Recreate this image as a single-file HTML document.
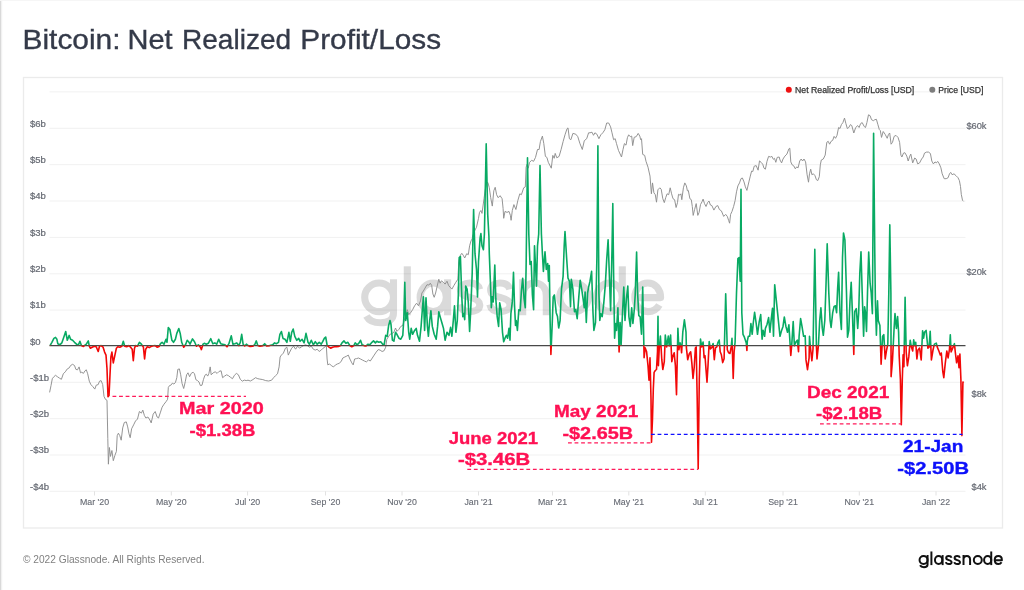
<!DOCTYPE html>
<html><head><meta charset="utf-8"><title>Bitcoin: Net Realized Profit/Loss</title>
<style>
html,body{margin:0;padding:0;background:#fff;}
body{width:1024px;height:590px;overflow:hidden;position:relative;font-family:"Liberation Sans",sans-serif;}
svg{position:absolute;left:0;top:0;will-change:transform;}
text{font-family:"Liberation Sans",sans-serif;}
</style></head><body>
<svg width="1024" height="590" viewBox="0 0 1024 590">
<defs>
<clipPath id="up"><rect x="40" y="80" width="940" height="265.6"/></clipPath>
<clipPath id="dn"><rect x="40" y="345.6" width="940" height="160"/></clipPath>
<g id="gn" fill="none" stroke-width="7.1" stroke-linecap="butt" stroke-linejoin="round">
<ellipse cx="379.1" cy="297.3" rx="14.4" ry="14.3"/>
<path d="M393.5,279.3 V313 C393.5,320 388,322.8 380.5,322.8 C373.5,322.8 368.8,320.4 366.4,316"/>
<path d="M407.3,266.3 V315.3"/>
<ellipse cx="433.2" cy="297.3" rx="13.1" ry="14.3"/>
<path d="M447.6,279.3 V315.3"/>
<path d="M479.6,289.3 C478.4,284.6 474.4,283 469.7,283 C464.2,283 460.4,285.8 460.4,289.9 C460.4,294.8 465,296.2 470,297.4 C475.2,298.6 479.8,300.3 479.8,305 C479.8,309.5 475.3,311.6 469.9,311.6 C464.4,311.6 460.6,309.3 459.6,304.6"/>
<path d="M509.8,289.3 C508.6,284.6 504.6,283 499.9,283 C494.4,283 490.6,285.8 490.6,289.9 C490.6,294.8 495.2,296.2 500.2,297.4 C505.4,298.6 510,300.3 510,305 C510,309.5 505.5,311.6 500.1,311.6 C494.6,311.6 490.8,309.3 489.8,304.6"/>
<path d="M522.7,279.3 V315.3 M522.7,296.5 C522.7,288 527.5,283 534.6,283 C541.8,283 546.3,288 546.3,296 V315.3"/>
<ellipse cx="574" cy="297.3" rx="14.3" ry="14.3"/>
<ellipse cx="609.5" cy="297.3" rx="12.9" ry="14.3"/>
<path d="M622.3,266.3 V315.3"/>
<path d="M635,297.6 H660.6 C660.6,289 655.2,283 647.8,283 C640.4,283 634.8,289 634.8,297.3 C634.8,305.6 640.4,311.6 647.9,311.6 C653,311.6 657,309.2 659.3,305"/>
</g>
</defs>
<!-- page edge -->
<rect x="0" y="0" width="1.2" height="590" fill="#d9d9d9"/>
<rect x="1.2" y="0" width="1" height="590" fill="#f1f1f1"/>
<rect x="0" y="0" width="1024" height="1" fill="#f6f6f6"/>
<!-- title -->
<g font-size="27.4" fill="#343a49" id="title" stroke="#343a49" stroke-width="0.35"><text x="22.50" y="48.7" textLength="98.06" lengthAdjust="spacingAndGlyphs">Bitcoin:</text><text x="127.50" y="48.7" textLength="45.13" lengthAdjust="spacingAndGlyphs">Net</text><text x="182.00" y="48.7" textLength="109.12" lengthAdjust="spacingAndGlyphs">Realized</text><text x="300.30" y="48.7" textLength="140.83" lengthAdjust="spacingAndGlyphs">Profit/Loss</text></g>
<!-- frame -->
<rect x="23.5" y="77.5" width="979" height="450.5" fill="#fff" stroke="#ebebeb" stroke-width="1.3"/>
<!-- grid -->
<g stroke="#f1f1f1" stroke-width="1"><line x1="49.5" x2="965.5" y1="91.9" y2="91.9"/><line x1="49.5" x2="965.5" y1="128.3" y2="128.3"/><line x1="49.5" x2="965.5" y1="164.7" y2="164.7"/><line x1="49.5" x2="965.5" y1="201.0" y2="201.0"/><line x1="49.5" x2="965.5" y1="237.4" y2="237.4"/><line x1="49.5" x2="965.5" y1="273.8" y2="273.8"/><line x1="49.5" x2="965.5" y1="310.1" y2="310.1"/><line x1="49.5" x2="965.5" y1="382.3" y2="382.3"/><line x1="49.5" x2="965.5" y1="418.7" y2="418.7"/><line x1="49.5" x2="965.5" y1="455.0" y2="455.0"/><line x1="49.5" x2="965.5" y1="491.3" y2="491.3"/></g>
<g stroke="#e2e2e2" stroke-width="1"><line x1="94.5" x2="94.5" y1="491.3" y2="495.5"/><line x1="171.3" x2="171.3" y1="491.3" y2="495.5"/><line x1="247.6" x2="247.6" y1="491.3" y2="495.5"/><line x1="325.5" x2="325.5" y1="491.3" y2="495.5"/><line x1="402" x2="402" y1="491.3" y2="495.5"/><line x1="478.5" x2="478.5" y1="491.3" y2="495.5"/><line x1="552.5" x2="552.5" y1="491.3" y2="495.5"/><line x1="628.8" x2="628.8" y1="491.3" y2="495.5"/><line x1="705.3" x2="705.3" y1="491.3" y2="495.5"/><line x1="783" x2="783" y1="491.3" y2="495.5"/><line x1="859.3" x2="859.3" y1="491.3" y2="495.5"/><line x1="936" x2="936" y1="491.3" y2="495.5"/></g>
<!-- watermark -->
<use href="#gn" stroke="#000" opacity="0.14" id="wm"/>
<!-- axis labels -->
<g font-size="8.6" fill="#666a73" stroke="#666a73" stroke-width="0.2" id="yl"><text transform="translate(30,126.6) scale(1.11,1)">$6b</text><text transform="translate(30,163.0) scale(1.11,1)">$5b</text><text transform="translate(30,199.3) scale(1.11,1)">$4b</text><text transform="translate(30,235.7) scale(1.11,1)">$3b</text><text transform="translate(30,272.1) scale(1.11,1)">$2b</text><text transform="translate(30,308.4) scale(1.11,1)">$1b</text><text transform="translate(30,344.8) scale(1.11,1)">$0</text><text transform="translate(30,380.6) scale(1.11,1)">-$1b</text><text transform="translate(30,417.0) scale(1.11,1)">-$2b</text><text transform="translate(30,453.3) scale(1.11,1)">-$3b</text><text transform="translate(30,489.6) scale(1.11,1)">-$4b</text></g>
<g font-size="8.6" fill="#666a73" stroke="#666a73" stroke-width="0.2" id="rl"><text transform="translate(986.5,129.0) scale(1.08,1)" text-anchor="end">$60k</text><text transform="translate(986.5,275.0) scale(1.08,1)" text-anchor="end">$20k</text><text transform="translate(986.5,396.9) scale(1.08,1)" text-anchor="end">$8k</text><text transform="translate(986.5,489.8) scale(1.08,1)" text-anchor="end">$4k</text></g>
<g font-size="8.8" fill="#666a73" stroke="#666a73" stroke-width="0.12" id="xl"><text x="94.5" y="505.0" text-anchor="middle">Mar '20</text><text x="171.3" y="505.0" text-anchor="middle">May '20</text><text x="247.6" y="505.0" text-anchor="middle">Jul '20</text><text x="325.5" y="505.0" text-anchor="middle">Sep '20</text><text x="402" y="505.0" text-anchor="middle">Nov '20</text><text x="478.5" y="505.0" text-anchor="middle">Jan '21</text><text x="552.5" y="505.0" text-anchor="middle">Mar '21</text><text x="628.8" y="505.0" text-anchor="middle">May '21</text><text x="705.3" y="505.0" text-anchor="middle">Jul '21</text><text x="783" y="505.0" text-anchor="middle">Sep '21</text><text x="859.3" y="505.0" text-anchor="middle">Nov '21</text><text x="936" y="505.0" text-anchor="middle">Jan '22</text></g>
<!-- price -->
<path d="M49.6,392.4 L51.0,385.6 L52.3,378.7 L53.9,376.7 L55.5,375.3 L57.4,376.7 L59.4,378.1 L61.4,379.3 L63.3,373.8 L65.3,371.8 L67.3,368.9 L69.2,367.9 L70.6,365.5 L72.6,364.3 L74.5,365.5 L75.9,369.4 L77.5,369.8 L79.1,366.9 L80.5,372.8 L81.8,372.2 L83.4,373.4 L85.0,370.8 L86.3,369.8 L87.7,373.8 L89.3,381.2 L90.9,384.6 L92.8,386.6 L94.8,389.1 L96.2,385.2 L98.2,384.6 L99.5,381.2 L101.1,380.6 L102.7,384.6 L104.0,396.4 L105.4,399.3 L107.0,400.3 L107.8,438.7 L108.4,464.2 L109.4,447.5 L110.5,456.4 L111.9,450.5 L113.3,460.7 L114.9,455.4 L116.4,451.4 L117.2,435.7 L118.4,433.2 L119.8,435.7 L121.2,440.2 L122.7,427.9 L124.3,422.5 L126.3,421.9 L127.7,426.9 L129.0,433.8 L130.2,437.7 L131.6,428.8 L133.6,424.9 L135.5,421.0 L137.5,419.0 L139.4,411.5 L141.4,413.1 L142.8,410.1 L144.4,415.5 L145.9,418.0 L147.9,417.0 L149.9,420.0 L151.2,422.9 L153.2,414.1 L155.2,411.5 L157.1,417.0 L158.5,418.0 L160.5,412.1 L162.1,407.2 L164.0,404.2 L166.0,401.7 L167.6,399.3 L168.3,387.5 L169.5,385.6 L170.9,385.2 L172.3,383.2 L173.9,384.0 L175.4,382.6 L176.8,377.7 L177.8,369.4 L179.4,368.9 L180.7,374.8 L182.1,383.6 L183.7,388.5 L185.3,381.6 L186.6,374.8 L188.0,372.8 L189.6,376.7 L191.2,373.4 L193.1,372.2 L194.5,373.8 L195.9,379.7 L197.5,380.6 L199.0,382.0 L200.4,385.6 L202.0,385.2 L203.4,379.7 L204.9,375.3 L206.3,374.2 L207.7,376.1 L208.9,373.4 L210.2,366.9 L211.2,374.8 L213.2,372.8 L215.2,371.8 L217.1,373.4 L219.1,371.4 L221.1,370.8 L222.6,377.7 L224.6,376.1 L226.6,374.8 L228.5,375.7 L230.5,377.3 L232.5,378.7 L234.4,375.3 L236.4,373.4 L238.4,374.8 L240.3,379.3 L242.3,381.2 L244.3,380.1 L246.2,380.6 L248.0,380.2 L250.4,381.0 L252.9,379.6 L255.5,377.7 L257.8,378.7 L259.8,379.1 L262.8,379.6 L265.7,380.6 L268.6,381.0 L271.6,380.2 L273.6,377.7 L275.5,375.7 L277.5,373.8 L279.1,366.9 L280.1,357.0 L281.4,355.1 L283.4,353.1 L285.4,348.2 L286.9,347.2 L288.3,355.1 L289.7,352.1 L291.7,348.2 L293.6,346.2 L295.6,349.2 L297.6,346.2 L299.5,348.2 L301.5,346.8 L303.5,345.6 L305.4,344.8 L307.4,345.6 L309.4,347.2 L311.3,346.2 L313.3,349.2 L315.3,350.1 L317.2,349.2 L319.2,351.5 L321.2,350.1 L323.1,348.2 L325.1,346.8 L326.3,345.6 L327.1,359.0 L327.8,364.9 L329.6,363.9 L331.6,365.9 L333.6,366.9 L335.5,364.9 L337.5,363.9 L339.4,363.3 L341.4,361.0 L342.8,358.0 L344.8,357.0 L346.7,356.1 L348.3,355.1 L349.9,359.0 L351.8,362.9 L353.2,364.9 L354.6,359.0 L356.6,358.6 L358.5,358.0 L360.5,359.0 L362.4,360.0 L364.4,361.0 L366.4,361.9 L368.4,360.0 L370.3,361.0 L372.3,358.0 L374.2,355.1 L376.2,352.1 L378.2,349.6 L380.1,350.1 L382.1,351.5 L384.1,350.7 L385.7,347.2 L386.8,339.3 L390.0,334.3 L392.4,333.3 L393.9,332.3 L395.5,328.0 L396.9,331.4 L398.9,329.4 L400.8,326.4 L402.8,325.4 L404.2,320.5 L405.7,316.6 L407.3,309.7 L408.7,314.6 L410.6,312.7 L412.6,309.7 L414.6,305.8 L416.6,303.2 L418.5,305.8 L420.5,300.9 L421.9,293.0 L423.4,291.0 L425.0,288.1 L427.0,284.7 L428.9,285.1 L430.3,283.2 L431.7,285.5 L432.9,294.0 L434.2,297.3 L435.6,293.0 L437.2,286.1 L438.8,279.2 L440.1,283.2 L441.5,280.8 L443.1,282.2 L445.1,284.1 L447.0,281.2 L448.6,285.5 L450.0,287.1 L451.9,289.1 L453.9,285.5 L455.9,282.2 L457.9,279.2 L458.8,261.5 L460.4,255.2 L461.8,253.3 L463.2,255.2 L464.7,258.0 L466.7,253.7 L468.3,254.7 L469.6,245.8 L471.0,240.9 L472.2,238.9 L472.6,236.0 L475.0,230.1 L476.5,227.2 L478.5,218.3 L479.5,212.4 L480.9,210.5 L482.0,213.4 L484.0,198.7 L485.4,188.8 L486.8,182.9 L487.9,182.5 L489.3,187.8 L490.7,197.7 L492.3,206.1 L493.8,190.8 L495.2,187.3 L496.6,194.7 L498.2,197.7 L500.1,195.7 L502.1,198.7 L503.1,208.5 L503.7,218.3 L505.0,211.4 L507.0,212.4 L509.0,211.4 L510.4,215.4 L511.1,220.3 L512.3,210.5 L513.9,204.6 L515.9,209.5 L517.8,200.6 L519.8,193.8 L521.4,194.7 L523.7,187.8 L525.3,186.9 L526.1,167.2 L527.1,164.2 L528.2,168.2 L529.6,162.3 L531.6,160.3 L533.6,161.3 L535.5,157.4 L537.5,149.5 L539.1,149.5 L540.4,141.6 L542.4,136.1 L543.8,143.6 L545.4,156.4 L546.9,157.4 L548.3,162.3 L551.3,168.2 L552.8,155.4 L554.2,158.3 L555.2,153.4 L556.8,157.8 L559.1,156.4 L561.1,149.5 L563.1,141.6 L565.0,134.8 L567.0,128.8 L568.0,127.9 L569.4,138.7 L570.9,139.7 L572.9,133.4 L575.8,134.2 L577.8,136.7 L579.8,143.2 L582.3,149.5 L584.3,140.7 L586.7,138.7 L588.6,132.8 L590.0,132.8 L592.0,132.2 L593.5,135.3 L594.9,132.8 L596.9,134.2 L598.9,138.7 L600.8,134.8 L602.8,132.8 L604.8,129.8 L606.7,123.0 L608.7,123.0 L610.6,126.9 L612.0,132.8 L613.6,139.7 L615.2,138.7 L616.5,143.6 L618.5,150.5 L621.5,157.0 L623.0,149.5 L624.4,143.6 L626.0,145.2 L627.4,137.7 L628.7,134.8 L630.3,136.7 L631.7,136.1 L632.7,145.6 L634.2,137.3 L636.2,136.7 L638.2,133.4 L639.8,136.1 L640.7,139.7 L641.5,138.7 L642.7,154.4 L644.7,155.4 L646.0,161.3 L648.0,167.2 L650.0,176.1 L651.4,193.8 L652.5,182.9 L653.9,192.8 L655.3,194.7 L656.5,202.2 L657.9,189.8 L659.8,187.8 L661.2,189.2 L662.8,198.7 L664.3,202.6 L665.7,197.7 L667.1,193.8 L668.7,194.7 L670.2,187.8 L671.6,193.8 L673.0,198.7 L674.6,199.7 L676.1,207.5 L677.5,202.6 L678.5,194.3 L679.9,195.1 L680.9,193.8 L681.8,199.7 L683.4,187.8 L684.8,182.9 L686.4,185.9 L687.4,190.8 L688.3,190.4 L689.9,198.7 L691.3,199.7 L692.3,206.5 L693.2,215.4 L694.6,209.5 L696.2,203.6 L697.8,215.4 L699.1,212.4 L700.5,204.6 L702.1,201.6 L703.1,199.1 L704.5,203.6 L706.0,206.5 L707.6,202.6 L709.0,201.0 L710.4,205.0 L711.9,205.6 L713.9,210.1 L715.9,206.5 L717.8,205.6 L719.4,209.5 L721.4,210.9 L723.7,216.4 L725.7,214.4 L727.3,216.4 L728.6,220.3 L729.6,223.2 L730.6,214.4 L732.0,211.4 L733.6,206.5 L735.1,200.6 L736.5,191.8 L737.9,185.9 L739.5,182.9 L741.0,178.6 L742.4,178.0 L744.0,181.9 L745.4,186.9 L746.9,190.4 L748.9,181.9 L750.3,176.1 L751.6,171.1 L752.8,171.5 L754.2,166.2 L756.2,165.6 L758.1,170.2 L759.5,160.9 L761.1,162.3 L762.7,164.2 L764.0,168.2 L765.4,169.2 L767.0,161.3 L768.6,156.4 L770.5,157.0 L771.9,156.4 L773.3,159.3 L774.5,158.3 L775.8,162.3 L777.2,157.4 L779.2,157.0 L780.0,160.0 L781.6,162.9 L783.0,159.0 L784.9,156.1 L786.9,154.1 L788.9,148.8 L789.8,148.2 L790.8,161.9 L792.2,164.9 L793.8,165.9 L795.3,168.8 L796.7,166.9 L798.1,167.8 L799.7,161.0 L801.2,159.0 L802.6,161.0 L804.0,159.0 L805.6,161.9 L807.1,174.7 L808.5,182.2 L809.5,173.8 L810.7,169.2 L811.9,174.7 L813.4,173.8 L815.0,175.7 L816.4,179.7 L817.8,180.6 L819.3,176.7 L820.3,164.9 L821.3,160.0 L823.3,159.0 L825.2,155.1 L826.8,142.3 L828.2,141.3 L829.6,144.2 L831.1,141.3 L832.7,140.3 L834.1,136.4 L835.5,138.3 L837.0,135.4 L838.6,127.5 L840.0,128.5 L841.4,124.6 L842.9,122.6 L844.5,118.1 L845.9,123.6 L847.3,128.5 L848.8,127.5 L850.4,124.6 L851.8,125.6 L853.8,133.0 L855.7,127.5 L857.7,125.6 L859.1,127.5 L860.6,123.6 L862.2,122.6 L864.2,126.5 L865.5,127.5 L866.9,122.6 L868.5,114.8 L870.1,115.7 L871.5,119.7 L873.4,120.7 L874.8,119.7 L876.4,119.3 L877.9,124.6 L879.3,129.5 L880.3,130.5 L881.5,137.4 L883.2,131.5 L885.2,134.4 L887.2,138.3 L888.5,134.4 L889.7,133.0 L891.1,144.2 L892.5,142.3 L894.1,136.4 L896.0,135.4 L898.0,137.4 L899.6,142.3 L900.9,155.1 L901.9,157.0 L903.5,153.1 L904.9,152.7 L906.8,156.1 L908.2,161.0 L909.8,156.1 L910.8,154.1 L912.7,162.9 L914.7,158.0 L916.1,159.0 L917.7,163.9 L919.6,162.9 L921.6,159.0 L923.2,157.0 L924.5,153.1 L926.5,152.1 L928.5,152.1 L930.4,153.5 L931.8,161.0 L933.4,163.9 L935.0,161.9 L936.3,162.9 L937.7,161.4 L939.3,163.9 L940.9,167.8 L942.2,173.8 L944.2,178.7 L946.2,178.7 L948.1,177.7 L949.5,173.8 L950.7,172.4 L952.1,174.7 L954.0,173.8 L956.0,175.7 L958.0,177.7 L959.4,180.6 L960.5,186.5 L961.3,194.4 L962.5,200.3 L963.5,201.3" fill="none" stroke="#8e8e8e" stroke-width="0.95" stroke-linejoin="round"/>
<!-- zero line -->
<line x1="49.5" x2="965.5" y1="345.6" y2="345.6" stroke="#484848" stroke-width="1.3"/>
<!-- series -->
<path d="M50.0,345.6 L51.9,342.3 L53.9,338.4 L55.5,337.4 L56.9,339.3 L57.8,343.7 L59.8,344.8 L61.8,342.9 L63.7,337.4 L65.7,331.5 L67.3,340.3 L69.2,335.4 L70.6,339.3 L72.6,340.3 L74.5,342.3 L76.5,344.2 L78.5,344.8 L79.9,341.3 L81.4,345.6 L83.4,346.4 L86.3,344.2 L88.3,340.9 L89.3,346.2 L90.3,348.2 L92.2,347.2 L94.2,346.2 L96.2,346.8 L98.2,351.5 L99.5,346.2 L101.1,345.6 L103.1,347.2 L104.6,352.1 L106.0,355.1 L107.0,368.8 L108.0,396.8 L109.0,395.6 L110.0,374.7 L110.9,357.0 L111.9,352.1 L113.3,362.9 L114.9,355.1 L116.4,348.2 L117.8,346.8 L119.8,347.2 L121.8,346.2 L123.3,341.3 L124.7,346.2 L126.7,346.8 L128.6,345.6 L130.6,347.2 L132.2,349.2 L133.3,360.6 L134.5,348.2 L135.5,345.6 L137.5,346.2 L139.4,342.3 L141.4,344.2 L142.4,345.6 L143.4,347.2 L144.6,359.0 L145.7,349.2 L147.3,346.8 L149.3,347.6 L151.2,346.4 L153.2,345.8 L155.2,345.6 L157.1,347.2 L159.1,346.4 L160.5,343.7 L162.1,342.3 L164.0,344.2 L166.0,339.3 L167.0,342.3 L168.3,327.5 L169.9,329.5 L171.9,340.3 L173.5,342.3 L175.4,339.3 L176.8,333.4 L178.8,328.5 L180.2,333.4 L181.7,342.3 L183.7,347.2 L185.7,344.2 L187.2,340.3 L188.6,341.7 L190.0,344.2 L192.5,338.9 L194.5,341.7 L196.5,346.2 L198.4,344.8 L200.4,347.2 L201.4,349.6 L203.0,344.2 L204.3,343.3 L206.3,344.2 L208.3,343.3 L210.8,338.7 L212.8,343.7 L214.8,342.9 L216.7,344.2 L218.7,339.3 L220.7,343.7 L222.6,344.2 L225.0,344.8 L227.0,346.8 L228.9,343.7 L231.3,335.8 L232.9,344.2 L234.8,343.7 L236.8,342.9 L238.8,345.6 L240.3,342.3 L241.7,334.4 L243.1,344.2 L244.7,346.0 L246.6,344.2 L248.0,345.6 L250.0,346.4 L252.9,346.2 L254.9,344.2 L256.3,340.9 L257.8,345.6 L259.8,346.2 L262.8,345.6 L264.7,343.7 L266.7,346.0 L269.6,345.6 L272.6,344.8 L274.6,342.9 L276.5,343.7 L278.5,342.3 L279.9,334.4 L281.4,331.5 L283.0,338.4 L285.0,339.3 L286.9,342.3 L288.9,332.4 L290.3,341.3 L291.7,332.4 L293.2,329.1 L294.8,336.4 L296.8,340.3 L298.7,338.4 L300.1,341.3 L302.1,339.3 L304.1,342.9 L306.0,333.4 L308.0,342.3 L309.4,344.2 L311.3,340.3 L313.3,344.8 L315.3,341.7 L317.2,344.2 L319.2,342.3 L321.2,344.2 L322.7,341.7 L324.3,338.4 L325.7,337.0 L327.1,345.2 L328.6,346.8 L330.6,348.2 L332.6,347.2 L334.5,346.8 L336.5,346.8 L338.5,346.4 L340.4,345.6 L342.0,342.9 L344.0,340.9 L345.9,343.3 L347.9,342.3 L349.9,345.6 L351.8,346.8 L353.8,345.6 L355.2,342.9 L357.1,344.8 L359.1,342.9 L360.5,340.3 L362.1,344.8 L364.0,345.6 L366.0,346.0 L368.0,344.2 L369.9,344.8 L371.9,342.3 L373.5,340.9 L375.4,342.9 L376.8,341.3 L378.8,342.3 L380.7,341.7 L382.7,344.2 L384.1,344.8 L385.7,335.4 L387.2,336.4 L388.6,325.6 L390.0,320.5 L391.0,324.5 L392.4,340.2 L393.9,341.2 L395.5,332.3 L396.9,334.3 L398.9,338.2 L400.8,339.2 L402.8,335.3 L403.8,318.6 L404.8,282.2 L405.7,320.5 L407.3,312.7 L408.7,332.3 L409.7,339.2 L411.2,328.4 L412.6,334.3 L414.6,330.4 L416.2,328.4 L417.5,335.3 L419.5,341.2 L421.1,326.4 L422.4,308.7 L423.4,296.9 L424.6,330.4 L426.0,297.9 L427.4,326.4 L428.4,336.3 L429.7,320.5 L430.9,310.7 L432.3,326.4 L434.2,334.3 L436.2,339.2 L437.6,326.4 L438.8,311.7 L440.1,316.6 L442.1,323.5 L443.5,328.4 L445.1,340.2 L447.0,332.3 L449.0,335.3 L450.6,327.4 L451.9,336.3 L453.3,320.5 L454.5,305.8 L455.9,332.3 L457.3,320.5 L458.4,293.0 L459.2,257.6 L460.4,256.6 L461.8,296.9 L462.8,316.6 L463.8,313.6 L464.7,319.6 L465.7,286.1 L467.1,289.1 L468.3,302.8 L469.6,331.4 L470.6,312.7 L472.2,273.3 L473.6,209.5 L475.0,253.7 L476.5,269.4 L477.5,296.9 L478.5,261.5 L480.1,237.9 L480.9,233.6 L482.0,245.8 L483.4,249.7 L484.4,234.0 L486.2,143.9 L487.7,214.3 L488.9,236.0 L489.3,253.7 L490.3,279.2 L491.3,307.8 L492.3,296.9 L493.2,301.9 L494.8,265.1 L495.8,298.9 L497.2,316.6 L498.6,326.4 L499.7,302.8 L501.1,309.7 L502.5,332.3 L503.7,341.8 L505.0,338.2 L506.4,335.3 L507.6,338.2 L509.0,328.4 L510.0,340.2 L510.9,313.6 L512.3,301.9 L513.5,272.4 L514.5,304.8 L515.5,325.4 L516.2,320.5 L517.4,330.4 L518.8,309.7 L520.2,310.7 L521.4,291.0 L522.7,278.2 L524.1,298.9 L525.3,307.8 L526.1,267.4 L527.5,157.7 L528.8,234.0 L530.0,264.5 L531.2,261.5 L532.4,295.0 L533.6,309.7 L534.5,245.8 L535.5,265.5 L536.5,286.1 L537.5,245.8 L538.7,234.0 L540.0,165.6 L541.4,234.0 L542.4,253.7 L543.4,271.4 L545.0,251.7 L546.3,269.4 L547.7,263.5 L548.5,281.2 L549.3,265.5 L550.1,320.5 L550.9,354.4 L552.2,324.5 L553.2,296.9 L554.4,295.0 L556.2,312.7 L557.5,316.6 L558.7,328.0 L560.1,320.5 L561.5,289.1 L563.1,276.3 L564.2,245.8 L565.0,231.6 L566.6,257.6 L568.0,278.2 L569.4,281.2 L570.5,306.8 L571.3,279.2 L572.9,289.1 L574.5,311.7 L575.8,309.7 L577.2,318.6 L578.8,296.9 L580.2,280.2 L581.7,289.1 L583.1,298.9 L584.3,307.8 L585.1,292.0 L586.3,322.5 L587.6,293.0 L588.6,287.1 L590.0,281.2 L591.6,271.4 L593.0,312.7 L593.9,330.4 L595.5,322.5 L596.9,257.6 L597.9,145.9 L598.9,293.0 L599.8,320.5 L600.8,313.6 L602.2,316.6 L603.8,302.8 L605.3,285.1 L606.7,259.6 L608.1,239.9 L609.3,273.3 L610.6,310.7 L612.0,249.7 L612.8,203.5 L613.6,273.3 L614.6,338.2 L615.6,323.5 L616.5,330.4 L617.9,307.8 L619.1,352.0 L620.1,322.5 L621.1,345.1 L622.5,312.7 L623.8,287.1 L625.0,320.5 L626.4,298.9 L627.8,286.1 L628.9,316.6 L630.3,326.4 L631.7,307.8 L632.9,323.5 L634.2,310.7 L635.2,295.0 L636.6,252.1 L637.6,293.0 L638.8,315.6 L640.1,316.6 L641.5,334.3 L642.7,287.1 L644.1,357.7 L645.1,347.9 L646.6,351.8 L648.0,365.6 L649.0,380.3 L650.0,357.7 L651.0,399.0 L651.5,442.3 L652.5,418.7 L653.3,389.2 L654.1,372.4 L655.3,370.5 L656.5,369.5 L657.5,351.8 L658.0,316.4 L658.4,365.6 L659.2,348.9 L660.4,336.1 L661.8,359.7 L662.8,369.5 L664.3,361.6 L665.3,335.1 L666.7,346.9 L668.3,336.1 L669.2,345.9 L670.6,335.1 L671.8,361.6 L673.0,355.7 L674.2,352.8 L675.4,365.6 L676.5,394.7 L677.9,328.2 L678.9,349.8 L680.1,342.9 L680.9,345.5 L681.6,352.8 L682.8,332.1 L684.4,319.9 L686.0,332.1 L686.4,347.9 L687.7,359.7 L689.3,353.8 L690.7,351.8 L691.9,363.6 L693.0,378.4 L694.2,367.5 L695.4,347.9 L696.2,346.9 L697.2,399.0 L698.2,468.8 L699.3,379.3 L700.5,339.0 L701.7,346.9 L703.1,342.0 L704.1,357.7 L705.0,355.7 L706.0,369.5 L707.0,382.3 L708.0,365.6 L709.2,341.6 L710.4,348.9 L711.9,347.5 L713.1,343.5 L714.3,359.7 L715.5,347.9 L716.8,346.9 L717.8,342.9 L719.2,340.0 L720.2,351.8 L721.4,354.8 L722.7,362.6 L724.1,358.7 L725.7,293.8 L727.3,349.8 L728.6,352.8 L730.0,353.4 L731.2,346.9 L732.0,338.4 L733.2,378.4 L734.1,351.8 L735.1,342.0 L736.5,293.0 L737.9,258.6 L739.1,257.6 L740.2,281.2 L741.0,189.2 L741.8,312.7 L743.0,334.3 L744.4,337.2 L746.3,343.1 L746.9,350.4 L747.3,341.2 L748.3,336.3 L749.7,336.3 L750.9,323.5 L752.2,334.3 L753.2,323.5 L754.6,312.3 L756.2,323.5 L757.5,334.3 L759.1,322.5 L760.7,314.6 L762.1,339.2 L763.1,330.4 L764.6,336.3 L765.4,328.4 L767.0,324.5 L768.6,317.6 L769.9,332.3 L771.3,318.6 L772.5,308.3 L773.5,336.3 L774.7,284.7 L780.0,336.3 L781.6,330.4 L783.0,326.4 L784.3,317.0 L785.9,326.4 L787.5,332.3 L788.9,324.9 L790.2,345.7 L790.8,355.5 L791.8,344.1 L793.2,321.5 L794.4,345.7 L795.7,342.2 L797.3,340.2 L798.5,351.6 L799.1,336.3 L800.6,318.6 L802.0,326.4 L803.6,336.3 L805.2,335.9 L806.0,359.9 L807.5,369.7 L809.1,357.9 L809.5,336.3 L810.5,348.1 L811.9,360.8 L813.0,349.0 L814.8,249.3 L816.4,345.7 L817.0,358.9 L818.4,345.7 L819.7,320.5 L820.9,307.8 L822.3,328.4 L823.3,335.3 L824.8,320.5 L826.0,285.1 L827.2,243.8 L828.8,293.0 L830.1,320.5 L831.1,327.4 L832.7,312.7 L834.1,306.4 L835.5,305.8 L836.6,312.7 L837.6,289.1 L838.6,272.4 L840.0,312.7 L841.4,329.4 L842.5,257.6 L843.5,233.0 L844.9,239.9 L846.5,293.0 L847.5,337.2 L848.8,330.4 L850.0,300.9 L851.2,282.2 L852.4,312.7 L853.8,354.4 L854.7,311.7 L856.3,308.7 L857.7,328.4 L858.7,312.7 L859.8,273.3 L861.0,251.7 L862.2,293.0 L863.6,336.3 L864.6,306.8 L865.5,312.7 L866.5,331.4 L867.5,293.0 L868.7,252.1 L870.1,283.2 L871.2,293.0 L872.4,313.6 L873.6,133.3 L874.8,253.7 L875.4,302.8 L876.4,335.3 L877.5,300.9 L878.3,320.5 L879.9,325.4 L881.1,364.2 L882.6,336.3 L883.8,334.7 L885.2,358.9 L886.6,350.0 L887.8,344.1 L888.8,293.0 L889.8,224.9 L890.9,293.0 L891.1,376.6 L892.5,359.9 L894.1,328.4 L895.0,313.6 L896.4,328.4 L897.6,316.6 L898.6,332.3 L899.2,355.9 L900.4,379.5 L901.3,424.8 L902.3,379.5 L903.1,354.9 L903.9,366.7 L905.1,297.3 L906.2,352.0 L907.4,365.8 L908.8,356.9 L910.2,340.2 L911.4,347.1 L912.7,351.0 L913.7,339.8 L914.7,345.7 L915.7,342.2 L916.9,358.9 L918.0,350.0 L919.6,348.1 L921.2,359.9 L922.6,330.8 L923.6,338.2 L924.5,332.3 L926.1,330.4 L927.9,348.1 L929.1,347.1 L930.2,331.4 L931.4,359.9 L933.0,350.0 L934.4,344.1 L936.3,343.1 L937.3,347.1 L938.9,351.0 L940.3,354.9 L941.3,353.0 L942.8,371.7 L943.8,377.6 L945.2,363.8 L946.8,351.0 L948.1,357.9 L949.5,349.0 L950.3,334.7 L951.1,352.0 L952.7,348.1 L954.4,343.7 L955.4,353.0 L956.6,362.8 L958.0,355.9 L959.0,367.7 L959.9,354.0 L960.9,379.5 L961.9,435.6 L962.9,382.5 L963.5,381.5" fill="none" stroke="#08aa63" stroke-width="1.6" stroke-linejoin="round" clip-path="url(#up)"/>
<path d="M50.0,345.6 L51.9,342.3 L53.9,338.4 L55.5,337.4 L56.9,339.3 L57.8,343.7 L59.8,344.8 L61.8,342.9 L63.7,337.4 L65.7,331.5 L67.3,340.3 L69.2,335.4 L70.6,339.3 L72.6,340.3 L74.5,342.3 L76.5,344.2 L78.5,344.8 L79.9,341.3 L81.4,345.6 L83.4,346.4 L86.3,344.2 L88.3,340.9 L89.3,346.2 L90.3,348.2 L92.2,347.2 L94.2,346.2 L96.2,346.8 L98.2,351.5 L99.5,346.2 L101.1,345.6 L103.1,347.2 L104.6,352.1 L106.0,355.1 L107.0,368.8 L108.0,396.8 L109.0,395.6 L110.0,374.7 L110.9,357.0 L111.9,352.1 L113.3,362.9 L114.9,355.1 L116.4,348.2 L117.8,346.8 L119.8,347.2 L121.8,346.2 L123.3,341.3 L124.7,346.2 L126.7,346.8 L128.6,345.6 L130.6,347.2 L132.2,349.2 L133.3,360.6 L134.5,348.2 L135.5,345.6 L137.5,346.2 L139.4,342.3 L141.4,344.2 L142.4,345.6 L143.4,347.2 L144.6,359.0 L145.7,349.2 L147.3,346.8 L149.3,347.6 L151.2,346.4 L153.2,345.8 L155.2,345.6 L157.1,347.2 L159.1,346.4 L160.5,343.7 L162.1,342.3 L164.0,344.2 L166.0,339.3 L167.0,342.3 L168.3,327.5 L169.9,329.5 L171.9,340.3 L173.5,342.3 L175.4,339.3 L176.8,333.4 L178.8,328.5 L180.2,333.4 L181.7,342.3 L183.7,347.2 L185.7,344.2 L187.2,340.3 L188.6,341.7 L190.0,344.2 L192.5,338.9 L194.5,341.7 L196.5,346.2 L198.4,344.8 L200.4,347.2 L201.4,349.6 L203.0,344.2 L204.3,343.3 L206.3,344.2 L208.3,343.3 L210.8,338.7 L212.8,343.7 L214.8,342.9 L216.7,344.2 L218.7,339.3 L220.7,343.7 L222.6,344.2 L225.0,344.8 L227.0,346.8 L228.9,343.7 L231.3,335.8 L232.9,344.2 L234.8,343.7 L236.8,342.9 L238.8,345.6 L240.3,342.3 L241.7,334.4 L243.1,344.2 L244.7,346.0 L246.6,344.2 L248.0,345.6 L250.0,346.4 L252.9,346.2 L254.9,344.2 L256.3,340.9 L257.8,345.6 L259.8,346.2 L262.8,345.6 L264.7,343.7 L266.7,346.0 L269.6,345.6 L272.6,344.8 L274.6,342.9 L276.5,343.7 L278.5,342.3 L279.9,334.4 L281.4,331.5 L283.0,338.4 L285.0,339.3 L286.9,342.3 L288.9,332.4 L290.3,341.3 L291.7,332.4 L293.2,329.1 L294.8,336.4 L296.8,340.3 L298.7,338.4 L300.1,341.3 L302.1,339.3 L304.1,342.9 L306.0,333.4 L308.0,342.3 L309.4,344.2 L311.3,340.3 L313.3,344.8 L315.3,341.7 L317.2,344.2 L319.2,342.3 L321.2,344.2 L322.7,341.7 L324.3,338.4 L325.7,337.0 L327.1,345.2 L328.6,346.8 L330.6,348.2 L332.6,347.2 L334.5,346.8 L336.5,346.8 L338.5,346.4 L340.4,345.6 L342.0,342.9 L344.0,340.9 L345.9,343.3 L347.9,342.3 L349.9,345.6 L351.8,346.8 L353.8,345.6 L355.2,342.9 L357.1,344.8 L359.1,342.9 L360.5,340.3 L362.1,344.8 L364.0,345.6 L366.0,346.0 L368.0,344.2 L369.9,344.8 L371.9,342.3 L373.5,340.9 L375.4,342.9 L376.8,341.3 L378.8,342.3 L380.7,341.7 L382.7,344.2 L384.1,344.8 L385.7,335.4 L387.2,336.4 L388.6,325.6 L390.0,320.5 L391.0,324.5 L392.4,340.2 L393.9,341.2 L395.5,332.3 L396.9,334.3 L398.9,338.2 L400.8,339.2 L402.8,335.3 L403.8,318.6 L404.8,282.2 L405.7,320.5 L407.3,312.7 L408.7,332.3 L409.7,339.2 L411.2,328.4 L412.6,334.3 L414.6,330.4 L416.2,328.4 L417.5,335.3 L419.5,341.2 L421.1,326.4 L422.4,308.7 L423.4,296.9 L424.6,330.4 L426.0,297.9 L427.4,326.4 L428.4,336.3 L429.7,320.5 L430.9,310.7 L432.3,326.4 L434.2,334.3 L436.2,339.2 L437.6,326.4 L438.8,311.7 L440.1,316.6 L442.1,323.5 L443.5,328.4 L445.1,340.2 L447.0,332.3 L449.0,335.3 L450.6,327.4 L451.9,336.3 L453.3,320.5 L454.5,305.8 L455.9,332.3 L457.3,320.5 L458.4,293.0 L459.2,257.6 L460.4,256.6 L461.8,296.9 L462.8,316.6 L463.8,313.6 L464.7,319.6 L465.7,286.1 L467.1,289.1 L468.3,302.8 L469.6,331.4 L470.6,312.7 L472.2,273.3 L473.6,209.5 L475.0,253.7 L476.5,269.4 L477.5,296.9 L478.5,261.5 L480.1,237.9 L480.9,233.6 L482.0,245.8 L483.4,249.7 L484.4,234.0 L486.2,143.9 L487.7,214.3 L488.9,236.0 L489.3,253.7 L490.3,279.2 L491.3,307.8 L492.3,296.9 L493.2,301.9 L494.8,265.1 L495.8,298.9 L497.2,316.6 L498.6,326.4 L499.7,302.8 L501.1,309.7 L502.5,332.3 L503.7,341.8 L505.0,338.2 L506.4,335.3 L507.6,338.2 L509.0,328.4 L510.0,340.2 L510.9,313.6 L512.3,301.9 L513.5,272.4 L514.5,304.8 L515.5,325.4 L516.2,320.5 L517.4,330.4 L518.8,309.7 L520.2,310.7 L521.4,291.0 L522.7,278.2 L524.1,298.9 L525.3,307.8 L526.1,267.4 L527.5,157.7 L528.8,234.0 L530.0,264.5 L531.2,261.5 L532.4,295.0 L533.6,309.7 L534.5,245.8 L535.5,265.5 L536.5,286.1 L537.5,245.8 L538.7,234.0 L540.0,165.6 L541.4,234.0 L542.4,253.7 L543.4,271.4 L545.0,251.7 L546.3,269.4 L547.7,263.5 L548.5,281.2 L549.3,265.5 L550.1,320.5 L550.9,354.4 L552.2,324.5 L553.2,296.9 L554.4,295.0 L556.2,312.7 L557.5,316.6 L558.7,328.0 L560.1,320.5 L561.5,289.1 L563.1,276.3 L564.2,245.8 L565.0,231.6 L566.6,257.6 L568.0,278.2 L569.4,281.2 L570.5,306.8 L571.3,279.2 L572.9,289.1 L574.5,311.7 L575.8,309.7 L577.2,318.6 L578.8,296.9 L580.2,280.2 L581.7,289.1 L583.1,298.9 L584.3,307.8 L585.1,292.0 L586.3,322.5 L587.6,293.0 L588.6,287.1 L590.0,281.2 L591.6,271.4 L593.0,312.7 L593.9,330.4 L595.5,322.5 L596.9,257.6 L597.9,145.9 L598.9,293.0 L599.8,320.5 L600.8,313.6 L602.2,316.6 L603.8,302.8 L605.3,285.1 L606.7,259.6 L608.1,239.9 L609.3,273.3 L610.6,310.7 L612.0,249.7 L612.8,203.5 L613.6,273.3 L614.6,338.2 L615.6,323.5 L616.5,330.4 L617.9,307.8 L619.1,352.0 L620.1,322.5 L621.1,345.1 L622.5,312.7 L623.8,287.1 L625.0,320.5 L626.4,298.9 L627.8,286.1 L628.9,316.6 L630.3,326.4 L631.7,307.8 L632.9,323.5 L634.2,310.7 L635.2,295.0 L636.6,252.1 L637.6,293.0 L638.8,315.6 L640.1,316.6 L641.5,334.3 L642.7,287.1 L644.1,357.7 L645.1,347.9 L646.6,351.8 L648.0,365.6 L649.0,380.3 L650.0,357.7 L651.0,399.0 L651.5,442.3 L652.5,418.7 L653.3,389.2 L654.1,372.4 L655.3,370.5 L656.5,369.5 L657.5,351.8 L658.0,316.4 L658.4,365.6 L659.2,348.9 L660.4,336.1 L661.8,359.7 L662.8,369.5 L664.3,361.6 L665.3,335.1 L666.7,346.9 L668.3,336.1 L669.2,345.9 L670.6,335.1 L671.8,361.6 L673.0,355.7 L674.2,352.8 L675.4,365.6 L676.5,394.7 L677.9,328.2 L678.9,349.8 L680.1,342.9 L680.9,345.5 L681.6,352.8 L682.8,332.1 L684.4,319.9 L686.0,332.1 L686.4,347.9 L687.7,359.7 L689.3,353.8 L690.7,351.8 L691.9,363.6 L693.0,378.4 L694.2,367.5 L695.4,347.9 L696.2,346.9 L697.2,399.0 L698.2,468.8 L699.3,379.3 L700.5,339.0 L701.7,346.9 L703.1,342.0 L704.1,357.7 L705.0,355.7 L706.0,369.5 L707.0,382.3 L708.0,365.6 L709.2,341.6 L710.4,348.9 L711.9,347.5 L713.1,343.5 L714.3,359.7 L715.5,347.9 L716.8,346.9 L717.8,342.9 L719.2,340.0 L720.2,351.8 L721.4,354.8 L722.7,362.6 L724.1,358.7 L725.7,293.8 L727.3,349.8 L728.6,352.8 L730.0,353.4 L731.2,346.9 L732.0,338.4 L733.2,378.4 L734.1,351.8 L735.1,342.0 L736.5,293.0 L737.9,258.6 L739.1,257.6 L740.2,281.2 L741.0,189.2 L741.8,312.7 L743.0,334.3 L744.4,337.2 L746.3,343.1 L746.9,350.4 L747.3,341.2 L748.3,336.3 L749.7,336.3 L750.9,323.5 L752.2,334.3 L753.2,323.5 L754.6,312.3 L756.2,323.5 L757.5,334.3 L759.1,322.5 L760.7,314.6 L762.1,339.2 L763.1,330.4 L764.6,336.3 L765.4,328.4 L767.0,324.5 L768.6,317.6 L769.9,332.3 L771.3,318.6 L772.5,308.3 L773.5,336.3 L774.7,284.7 L780.0,336.3 L781.6,330.4 L783.0,326.4 L784.3,317.0 L785.9,326.4 L787.5,332.3 L788.9,324.9 L790.2,345.7 L790.8,355.5 L791.8,344.1 L793.2,321.5 L794.4,345.7 L795.7,342.2 L797.3,340.2 L798.5,351.6 L799.1,336.3 L800.6,318.6 L802.0,326.4 L803.6,336.3 L805.2,335.9 L806.0,359.9 L807.5,369.7 L809.1,357.9 L809.5,336.3 L810.5,348.1 L811.9,360.8 L813.0,349.0 L814.8,249.3 L816.4,345.7 L817.0,358.9 L818.4,345.7 L819.7,320.5 L820.9,307.8 L822.3,328.4 L823.3,335.3 L824.8,320.5 L826.0,285.1 L827.2,243.8 L828.8,293.0 L830.1,320.5 L831.1,327.4 L832.7,312.7 L834.1,306.4 L835.5,305.8 L836.6,312.7 L837.6,289.1 L838.6,272.4 L840.0,312.7 L841.4,329.4 L842.5,257.6 L843.5,233.0 L844.9,239.9 L846.5,293.0 L847.5,337.2 L848.8,330.4 L850.0,300.9 L851.2,282.2 L852.4,312.7 L853.8,354.4 L854.7,311.7 L856.3,308.7 L857.7,328.4 L858.7,312.7 L859.8,273.3 L861.0,251.7 L862.2,293.0 L863.6,336.3 L864.6,306.8 L865.5,312.7 L866.5,331.4 L867.5,293.0 L868.7,252.1 L870.1,283.2 L871.2,293.0 L872.4,313.6 L873.6,133.3 L874.8,253.7 L875.4,302.8 L876.4,335.3 L877.5,300.9 L878.3,320.5 L879.9,325.4 L881.1,364.2 L882.6,336.3 L883.8,334.7 L885.2,358.9 L886.6,350.0 L887.8,344.1 L888.8,293.0 L889.8,224.9 L890.9,293.0 L891.1,376.6 L892.5,359.9 L894.1,328.4 L895.0,313.6 L896.4,328.4 L897.6,316.6 L898.6,332.3 L899.2,355.9 L900.4,379.5 L901.3,424.8 L902.3,379.5 L903.1,354.9 L903.9,366.7 L905.1,297.3 L906.2,352.0 L907.4,365.8 L908.8,356.9 L910.2,340.2 L911.4,347.1 L912.7,351.0 L913.7,339.8 L914.7,345.7 L915.7,342.2 L916.9,358.9 L918.0,350.0 L919.6,348.1 L921.2,359.9 L922.6,330.8 L923.6,338.2 L924.5,332.3 L926.1,330.4 L927.9,348.1 L929.1,347.1 L930.2,331.4 L931.4,359.9 L933.0,350.0 L934.4,344.1 L936.3,343.1 L937.3,347.1 L938.9,351.0 L940.3,354.9 L941.3,353.0 L942.8,371.7 L943.8,377.6 L945.2,363.8 L946.8,351.0 L948.1,357.9 L949.5,349.0 L950.3,334.7 L951.1,352.0 L952.7,348.1 L954.4,343.7 L955.4,353.0 L956.6,362.8 L958.0,355.9 L959.0,367.7 L959.9,354.0 L960.9,379.5 L961.9,435.6 L962.9,382.5 L963.5,381.5" fill="none" stroke="#f20808" stroke-width="1.6" stroke-linejoin="round" clip-path="url(#dn)"/>
<!-- annotations -->
<g stroke="#ff1a5a" stroke-width="1.25" stroke-dasharray="3.8 2.76" fill="none" id="dash">
<line x1="112.5" x2="246" y1="396.3" y2="396.3"/>
<line x1="467.3" x2="698" y1="469.4" y2="469.4"/>
<line x1="568" x2="652" y1="442.8" y2="442.8"/>
<line x1="820" x2="901.5" y1="423.8" y2="423.8"/>
</g>
<line x1="651" x2="962.5" y1="434.3" y2="434.3" stroke="#1010ff" stroke-width="1.25" stroke-dasharray="3.8 2.76"/>
<g font-size="16.3" font-weight="bold" id="ann" stroke-width="0.35" paint-order="stroke"><text x="179.00" y="413.75" fill="#ff1053" stroke="#ff1053" textLength="84.73" lengthAdjust="spacingAndGlyphs">Mar 2020</text><text x="189.50" y="435.5" fill="#ff1053" stroke="#ff1053" textLength="66.00" lengthAdjust="spacingAndGlyphs">-$1.38B</text><text x="448.75" y="444" fill="#ff1053" stroke="#ff1053" textLength="89.25" lengthAdjust="spacingAndGlyphs">June 2021</text><text x="458.00" y="465.25" fill="#ff1053" stroke="#ff1053" textLength="72.25" lengthAdjust="spacingAndGlyphs">-$3.46B</text><text x="554.00" y="417.25" fill="#ff1053" stroke="#ff1053" textLength="84.24" lengthAdjust="spacingAndGlyphs">May 2021</text><text x="562.50" y="439" fill="#ff1053" stroke="#ff1053" textLength="70.49" lengthAdjust="spacingAndGlyphs">-$2.65B</text><text x="807.00" y="398" fill="#ff1053" stroke="#ff1053" textLength="82.24" lengthAdjust="spacingAndGlyphs">Dec 2021</text><text x="816.00" y="419.25" fill="#ff1053" stroke="#ff1053" textLength="66.25" lengthAdjust="spacingAndGlyphs">-$2.18B</text><text x="903.00" y="451.75" fill="#0c10fa" stroke="#0c10fa" textLength="60.25" lengthAdjust="spacingAndGlyphs">21-Jan</text><text x="897.25" y="473.75" fill="#0c10fa" stroke="#0c10fa" textLength="71.73" lengthAdjust="spacingAndGlyphs">-$2.50B</text></g>
<!-- legend -->
<circle cx="788.8" cy="89.8" r="3" fill="#ee1111"/>
<text id="lg1" x="795" y="92.8" font-size="8.6" fill="#333" stroke="#333" stroke-width="0.25" textLength="119.3" lengthAdjust="spacingAndGlyphs">Net Realized Profit/Loss [USD]</text>
<circle cx="932.3" cy="89.8" r="3" fill="#7d7d7d"/>
<text id="lg2" x="938.3" y="92.8" font-size="8.6" fill="#333" stroke="#333" stroke-width="0.25" textLength="45.2" lengthAdjust="spacingAndGlyphs">Price [USD]</text>
<!-- footer -->
<text id="ft" x="23" y="562.8" font-size="10.4" fill="#808080" textLength="181.5" lengthAdjust="spacingAndGlyphs">© 2022 Glassnode. All Rights Reserved.</text>
<use href="#gn" stroke="#111" id="logo" transform="translate(918.6,565.1) scale(0.2783) translate(-361.3,-315.3)"/>
</svg>
</body></html>
